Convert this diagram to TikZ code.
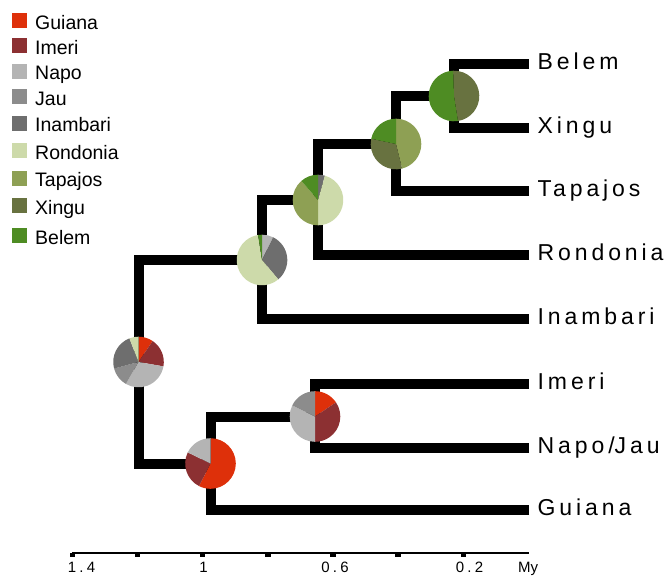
\documentclass[tikz,border=0pt]{standalone}
\usepackage{fontspec}
\setmainfont{Liberation Sans}
\newfontfamily\tipfont[LetterSpace=17]{Liberation Sans}
\newfontfamily\axisfont[LetterSpace=22]{Liberation Sans}

% area colours
\definecolor{cGuiana}{RGB}{222,48,10}
\definecolor{cImeri}{RGB}{140,48,50}
\definecolor{cNapo}{RGB}{180,180,180}
\definecolor{cJau}{RGB}{140,140,140}
\definecolor{cInambari}{RGB}{110,110,110}
\definecolor{cRondonia}{RGB}{205,218,170}
\definecolor{cTapajos}{RGB}{142,160,84}
\definecolor{cXingu}{RGB}{104,114,64}
\definecolor{cBelem}{RGB}{78,140,35}

\def\pierad{25.3}
% #1 centre, #2/#3 start/end angle clockwise from 12 o'clock, #4 colour
\newcommand\pieslc[4]{\fill[#4] (#1) -- ++({90-#2}:\pierad) arc[start angle={90-#2}, end angle={90-#3}, radius=\pierad] -- cycle;}

\tikzset{
  branch/.style={line width=10pt, line join=miter, line cap=butt},
  tiplabel/.style={anchor=base west, inner sep=0pt, font=\tipfont\fontsize{23}{23}\selectfont},
  legtext/.style={anchor=base west, inner sep=0pt, font=\fontsize{19.5}{19.5}\selectfont},
  axlabel/.style={anchor=base, inner sep=0pt, font=\axisfont\fontsize{15}{15}\selectfont},
}

\begin{document}
\begin{tikzpicture}[x=1pt,y=1pt]
\useasboundingbox (0,0) rectangle (669,-577);

% ---- tips ----
\foreach \nm/\yy/\txt in {Belem/64/Belem, Xingu/128/Xingu, Tapajos/191/Tapajos, Rondonia/255/Rondonia, Inambari/319/Inambari, Imeri/384/Imeri, Napo/447.5/Napo\slash Jau, Guiana/510/Guiana}{
  \coordinate (t\nm) at (529,-\yy);
  \node[tiplabel] (l\nm) at (537.5,-\yy-5.5) {\txt};
}

% ---- internal nodes ----
\coordinate (nBX)   at (454,-96);
\coordinate (nTap)  at (396,-144);
\coordinate (nRon)  at (318,-200);
\coordinate (nIna)  at (262,-260);
\coordinate (nRoot) at (138.5,-362);
\coordinate (nGui)  at (210.5,-463.5);
\coordinate (nImN)  at (315,-416.5);

% ---- branches ----
\draw[branch] (tBelem) -| (nBX);
\draw[branch] (tXingu) -| (nBX);
\draw[branch] (nBX) -| (nTap);
\draw[branch] (tTapajos) -| (nTap);
\draw[branch] (nTap) -| (nRon);
\draw[branch] (tRondonia) -| (nRon);
\draw[branch] (nRon) -| (nIna);
\draw[branch] (tInambari) -| (nIna);
\draw[branch] (nIna) -| (nRoot);
\draw[branch] (nGui) -| (nRoot);
\draw[branch] (tImeri) -| (nImN);
\draw[branch] (tNapo) -| (nImN);
\draw[branch] (nImN) -| (nGui);
\draw[branch] (tGuiana) -| (nGui);

% ---- ancestral area pies ----
\pieslc{nRoot}{0}{34}{cGuiana}
\pieslc{nRoot}{34}{100}{cImeri}
\pieslc{nRoot}{100}{210}{cNapo}
\pieslc{nRoot}{210}{255}{cJau}
\pieslc{nRoot}{255}{339}{cInambari}
\pieslc{nRoot}{339}{360}{cRondonia}

\pieslc{nGui}{0}{207}{cGuiana}
\pieslc{nGui}{207}{296}{cImeri}
\pieslc{nGui}{296}{360}{cNapo}

\pieslc{nImN}{0}{56}{cGuiana}
\pieslc{nImN}{56}{180}{cImeri}
\pieslc{nImN}{180}{296}{cNapo}
\pieslc{nImN}{296}{360}{cJau}

\pieslc{nIna}{0}{26}{cNapo}
\pieslc{nIna}{26}{140}{cInambari}
\pieslc{nIna}{140}{351}{cRondonia}
\pieslc{nIna}{351}{360}{cBelem}

\pieslc{nRon}{0}{16}{cInambari}
\pieslc{nRon}{16}{180}{cRondonia}
\pieslc{nRon}{180}{319}{cTapajos}
\pieslc{nRon}{319}{360}{cBelem}

\pieslc{nTap}{0}{166}{cTapajos}
\pieslc{nTap}{166}{282}{cXingu}
\pieslc{nTap}{282}{360}{cBelem}

\pieslc{nBX}{-2}{171}{cXingu}
\pieslc{nBX}{171}{358}{cBelem}

% ---- legend ----
\foreach \nm/\yy [count=\i] in {Guiana/20.8, Imeri/45.8, Napo/71.5, Jau/96.8, Inambari/123.2, Rondonia/150.8, Tapajos/178.2, Xingu/205.8, Belem/235.8}{
  \fill[c\nm] (11.7,-\yy+7.5) rectangle (26.7,-\yy-7.5);
  \node[legtext] (leg\i) at (35,-\yy-8.3) {\nm};
}

% ---- time axis ----
\coordinate (axL) at (72,-553);
\coordinate (axR) at (529,-553);
\draw[line width=2pt] (axL) -- (axR);
\foreach \k in {0,...,6}{
  \fill ({72.3+65.17*\k-2.8},-553) rectangle ({72.3+65.17*\k+2.8},-557);
}
\node[axlabel] (a14) at (81.5,-572) {1.4};
\node[axlabel] (a10) at (203.5,-572) {1};
\node[axlabel] (a06) at (335,-572) {0.6};
\node[axlabel] (a02) at (469.5,-572) {0.2};
\node[anchor=base, inner sep=0pt, font=\fontsize{15}{15}\selectfont] (aMy) at (528,-572) {My};
\end{tikzpicture}
\end{document}
